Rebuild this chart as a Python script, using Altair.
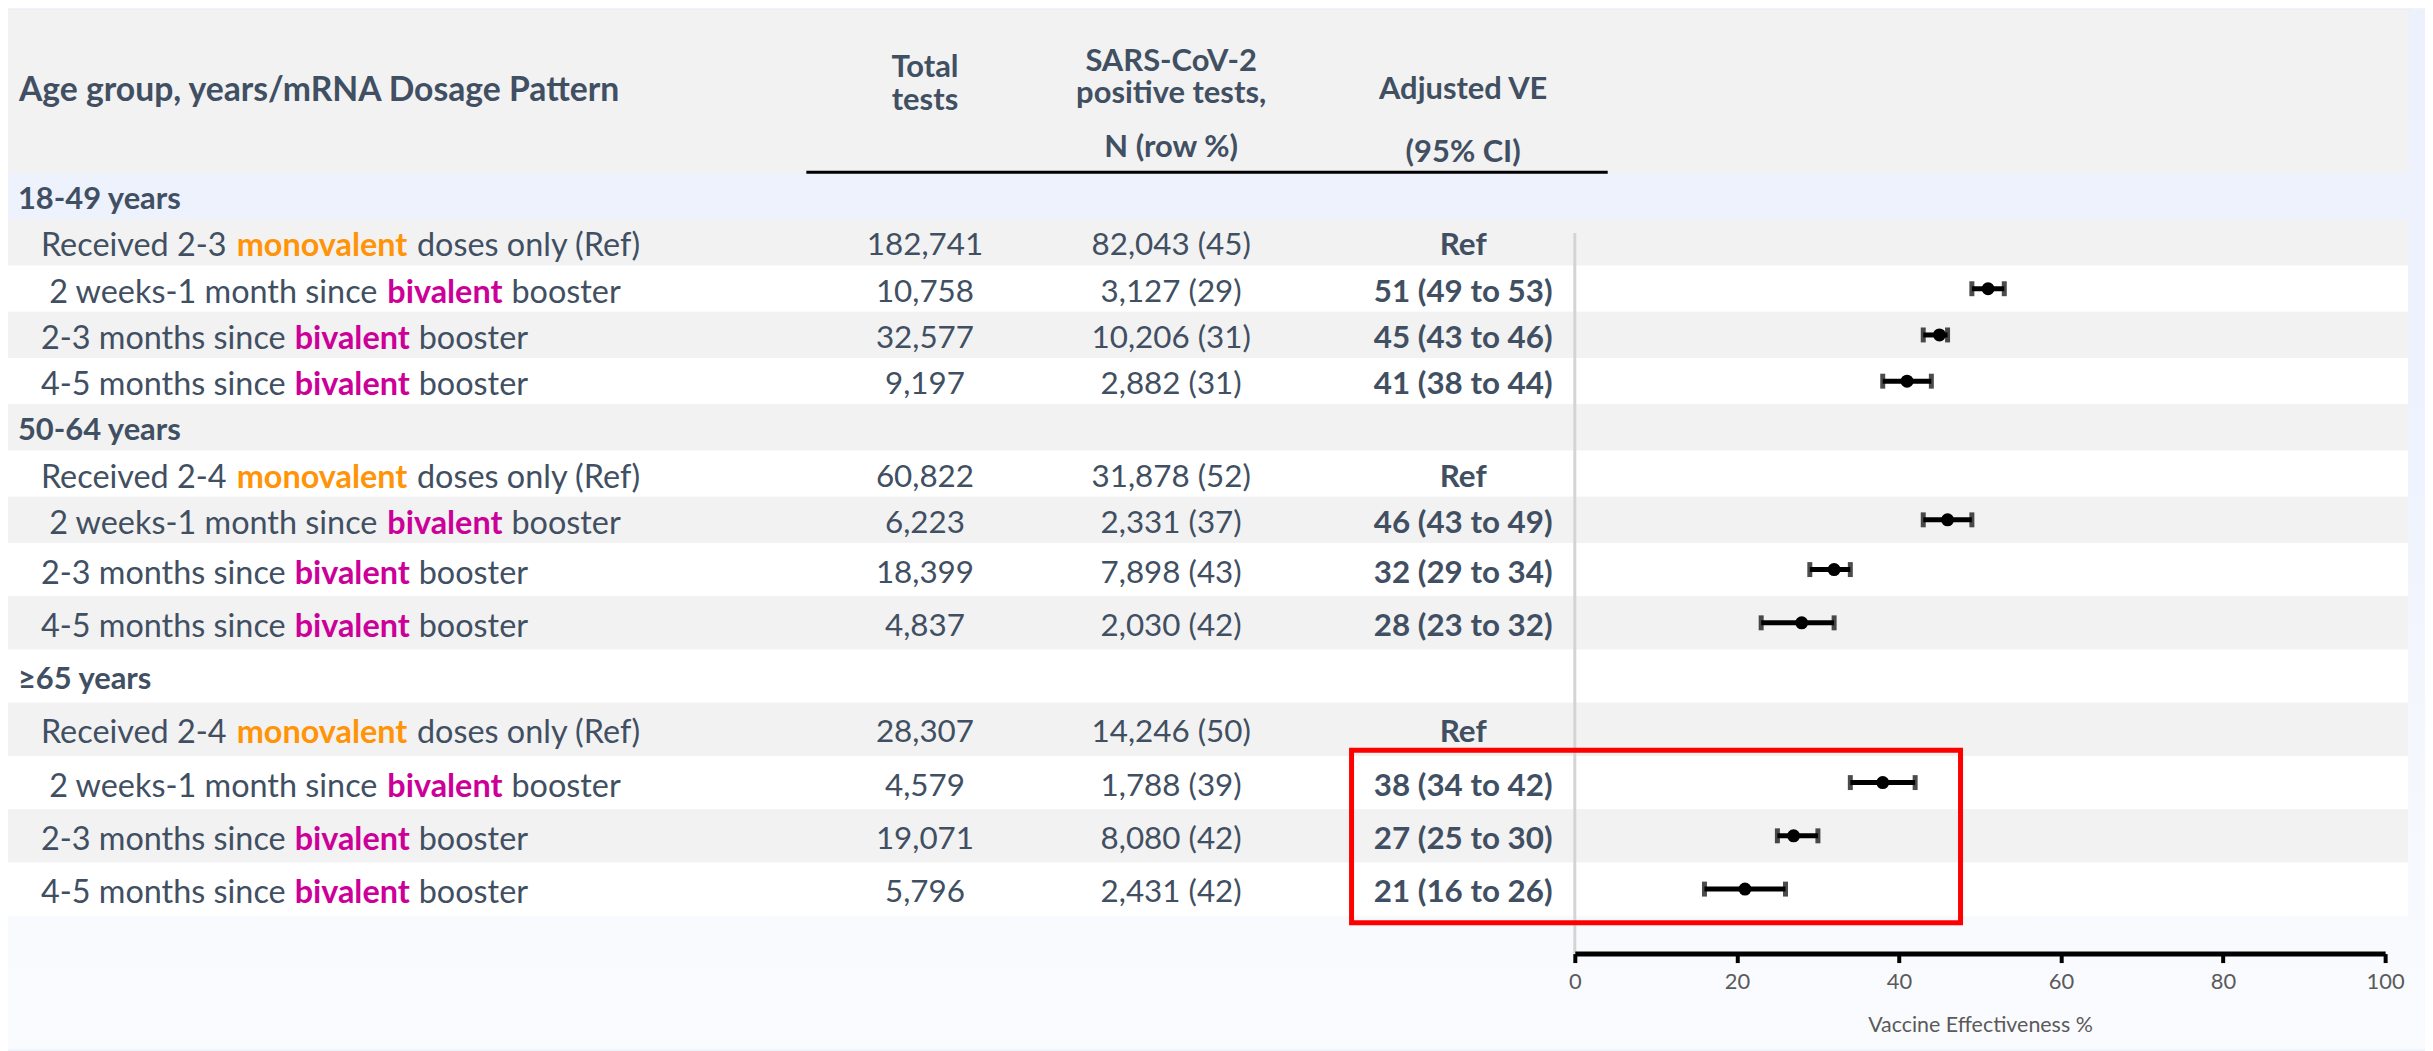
import glob
import os
import struct

import altair as alt
import pandas as pd

# ------------------------------------------------------------------ data
row_labels = [
    "18-49 years",
    "Received 2-3 monovalent doses only (Ref)",
    " 2 weeks-1 month since bivalent booster",
    "2-3 months since bivalent booster",
    "4-5 months since bivalent booster",
    "50-64 years",
    "Received 2-4 monovalent doses only (Ref)",
    " 2 weeks-1 month since bivalent booster",
    "2-3 months since bivalent booster",
    "4-5 months since bivalent booster",
    "≥65 years",
    "Received 2-4 monovalent doses only (Ref)",
    " 2 weeks-1 month since bivalent booster",
    "2-3 months since bivalent booster",
    "4-5 months since bivalent booster",
]
row_kind = ["group", "ref", "biv", "biv", "biv",
            "group", "ref", "biv", "biv", "biv",
            "group", "ref", "biv", "biv", "biv"]
total_tests = [None, 182741, 10758, 32577, 9197,
               None, 60822, 6223, 18399, 4837,
               None, 28307, 4579, 19071, 5796]
positive_n = [None, 82043, 3127, 10206, 2882,
              None, 31878, 2331, 7898, 2030,
              None, 14246, 1788, 8080, 2431]
positive_pct = [None, 45, 29, 31, 31,
                None, 52, 37, 43, 42,
                None, 50, 39, 42, 42]
ve_est = [None, None, 51, 45, 41, None, None, 46, 32, 28, None, None, 38, 27, 21]
ve_lo = [None, None, 49, 43, 38, None, None, 43, 29, 23, None, None, 34, 25, 16]
ve_hi = [None, None, 53, 46, 44, None, None, 49, 34, 32, None, None, 42, 30, 26]
axis_ticks = [0, 20, 40, 60, 80, 100]
header_texts = ["Age group, years/mRNA Dosage Pattern", "Total", "tests",
                "SARS-CoV-2", "positive tests,", "N (row %)",
                "Adjusted VE", "(95% CI)"]
axis_title = "Vaccine Effectiveness %"

# ------------------------------------------------------------------ style
FONT = "Lato"
TEXT = "#414f62"
ORANGE = "#ff9408"
MAGENTA = "#cc0099"
keyword_colors = {"monovalent": ORANGE, "bivalent": MAGENTA}
ROW_FS = 32.5
NUM_FS = 31.5
HEAD_FS = 33.8
COLHEAD_FS = 31
GROUP_FS = 31
TEXT_DY = 4
LABEL_X = 33
GROUP_X = 10
COL_TOTAL = 920
COL_POS = 1167
COL_VE = 1460


# --------------------------------------------------- text measurement
def _find_font(fname):
    roots = ["/usr/share/fonts", "/usr/local/share/fonts",
             os.path.expanduser("~/.fonts"), os.path.expanduser("~/.local/share/fonts")]
    for r in roots:
        hits = glob.glob(os.path.join(r, "**", fname), recursive=True)
        if hits:
            return hits[0]
    return None


def _font_widths(path):
    data = open(path, "rb").read()
    ntab = struct.unpack(">H", data[4:6])[0]
    tabs = {}
    for i in range(ntab):
        o = 12 + 16 * i
        tag = data[o:o + 4].decode("latin1")
        _, toff, tlen = struct.unpack(">III", data[o + 4:o + 16])
        tabs[tag] = toff
    upem = struct.unpack(">H", data[tabs["head"] + 18:tabs["head"] + 20])[0]
    nhm = struct.unpack(">H", data[tabs["hhea"] + 34:tabs["hhea"] + 36])[0]
    hm = tabs["hmtx"]
    adv = [struct.unpack(">H", data[hm + 4 * i:hm + 4 * i + 2])[0] for i in range(nhm)]
    cm = tabs["cmap"]
    nsub = struct.unpack(">H", data[cm + 2:cm + 4])[0]
    mapping = {}
    for i in range(nsub):
        pid, eid, soff = struct.unpack(">HHI", data[cm + 4 + 8 * i:cm + 12 + 8 * i])
        st = cm + soff
        fmt = struct.unpack(">H", data[st:st + 2])[0]
        if fmt != 4:
            continue
        segx2 = struct.unpack(">H", data[st + 6:st + 8])[0]
        seg = segx2 // 2
        ends = struct.unpack(">%dH" % seg, data[st + 14:st + 14 + segx2])
        starts = struct.unpack(">%dH" % seg, data[st + 16 + segx2:st + 16 + 2 * segx2])
        deltas = struct.unpack(">%dh" % seg, data[st + 16 + 2 * segx2:st + 16 + 3 * segx2])
        rpos = st + 16 + 3 * segx2
        roffs = struct.unpack(">%dH" % seg, data[rpos:rpos + segx2])
        for k in range(seg):
            for c in range(starts[k], min(ends[k], 0x2FFF) + 1):
                if roffs[k] == 0:
                    g = (c + deltas[k]) & 0xFFFF
                else:
                    a = rpos + 2 * k + roffs[k] + 2 * (c - starts[k])
                    g = struct.unpack(">H", data[a:a + 2])[0]
                    if g:
                        g = (g + deltas[k]) & 0xFFFF
                mapping[c] = g
        break

    def width(text, size):
        tot = 0
        for ch in text:
            g = mapping.get(ord(ch), 0)
            tot += adv[min(g, nhm - 1)]
        return tot * size / upem
    return width


def _make_measure(fname, fallback):
    try:
        p = _find_font(fname)
        if p:
            return _font_widths(p)
    except Exception:
        pass
    return lambda t, s: len(t) * s * fallback


w_reg = _make_measure("Lato-Regular.ttf", 0.50)
w_bold = _make_measure("Lato-Bold.ttf", 0.53)

# ------------------------------------------------------------------ tables
segments = []  # row, x, text, color, weight, size
for i, lab in enumerate(row_labels):
    if row_kind[i] == "group":
        segments.append((i, GROUP_X, lab.strip(), TEXT, "bold", GROUP_FS))
        continue
    lead = len(lab) - len(lab.lstrip())
    body = lab.strip()
    kw = next(k for k in keyword_colors if k in body)
    idx = body.index(kw)
    pre, post = body[:idx], body[idx + len(kw):]
    x0 = LABEL_X + lead * w_reg(" ", ROW_FS)
    x_kw = x0 + w_reg(pre, ROW_FS)
    x_post = x_kw + w_bold(kw, ROW_FS) + w_reg(" ", ROW_FS)
    segments.append((i, x0, pre.strip(), TEXT, "normal", ROW_FS))
    segments.append((i, x_kw, kw, keyword_colors[kw], "bold", ROW_FS))
    segments.append((i, x_post, post.strip(), TEXT, "normal", ROW_FS))

seg_df = pd.DataFrame(segments, columns=["row", "x", "text", "color", "weight", "size"])
seg_df["x"] = seg_df["x"].round(1)

num_rows = []
for i in range(len(row_labels)):
    if total_tests[i] is None:
        continue
    ve_txt = "Ref" if ve_est[i] is None else f"{ve_est[i]} ({ve_lo[i]} to {ve_hi[i]})"
    num_rows.append({"row": i, "total": f"{total_tests[i]:,}",
                     "pos": f"{positive_n[i]:,} ({positive_pct[i]})", "ve": ve_txt})
num_df = pd.DataFrame(num_rows)

forest_df = pd.DataFrame([{"row": i, "est": ve_est[i], "lo": ve_lo[i], "hi": ve_hi[i]}
                          for i in range(len(row_labels)) if ve_est[i] is not None])
caps_df = pd.concat([forest_df[["row", "lo"]].rename(columns={"lo": "cap"}),
                     forest_df[["row", "hi"]].rename(columns={"hi": "cap"})])

band_df = pd.DataFrame([{"row": i, "fill": "#f2f2f2" if i % 2 == 1 else "#ffffff"}
                        for i in range(1, len(row_labels))])

one = pd.DataFrame({"a": [0]})

# ------------------------------------------------------------------ scales
W, H = 2410, 947
n = len(row_labels)
# piecewise row scale: the upper eight rows are a little shorter than the lower seven
yscale = alt.Scale(domain=[-0.5, 7.5, n - 0.5], range=[164, 535, 909], nice=False, zero=False)
xscale = alt.Scale(domain=[0, 100], range=[1572, 2385], nice=False, zero=False)
xaxis = alt.Axis(values=axis_ticks, title=axis_title, grid=False, zindex=1,
                 domainColor="black", domainWidth=5, tickColor="black", tickWidth=4,
                 tickSize=9, labelFont=FONT, labelFontSize=22, labelColor="#5a5a5a",
                 labelPadding=9, labelFlush=False, titleFont=FONT, titleFontSize=21.5,
                 titleColor="#5a5a5a", titleFontWeight="normal", titlePadding=22)
Y = lambda f: alt.Y(f, type="quantitative", scale=yscale, axis=None)

# ------------------------------------------------------------------ layers
bg = alt.Chart(one).mark_rect(
    color=alt.Gradient(gradient="linear", x1=0, x2=0, y1=0, y2=1,
                       stops=[alt.GradientStop(color="#ecf1fc", offset=0),
                              alt.GradientStop(color="#eff3fd", offset=0.45),
                              alt.GradientStop(color="#f9fafe", offset=0.9),
                              alt.GradientStop(color="#fafbfe", offset=1)])
).encode(x=alt.value(0), x2=alt.value(W + 15), y=alt.value(0), y2=alt.value(H + 96))

header_bg = alt.Chart(one).mark_rect(color="#f2f2f2").encode(
    x=alt.value(0), x2=alt.value(2408), y=alt.value(0), y2=alt.value(164))

bands = alt.Chart(band_df).transform_calculate(
    y0="datum.row - 0.5", y1="datum.row + 0.5"
).mark_rect().encode(
    x=alt.value(0), x2=alt.value(2408), y=Y("y0"), y2="y1:Q",
    color=alt.Color("fill:N", scale=None))

underline = alt.Chart(one).mark_rule(color="black", strokeWidth=3).encode(
    x=alt.value(801), x2=alt.value(1605), y=alt.value(163))

refline = alt.Chart(pd.DataFrame({"v": [0]})).mark_rule(color="#d4d4d4", strokeWidth=3).encode(
    x=alt.X("v:Q", scale=xscale, axis=xaxis), y=alt.value(224), y2=alt.value(947))

# header texts: (index into header_texts, x, baseline y, align)
header_layout = [(0, 11, 92, "left"), (1, COL_TOTAL, 68, "center"), (2, COL_TOTAL, 101, "center"),
                 (3, COL_POS, 61, "center"), (4, COL_POS, 94, "center"), (5, COL_POS, 148, "center"),
                 (6, COL_VE, 90, "center"), (7, COL_VE, 153, "center")]
header_layers = []
for k, hx, hy, al in header_layout:
    header_layers.append(
        alt.Chart(pd.DataFrame({"t": [header_texts[k]]})).mark_text(
            align=al, baseline="alphabetic", font=FONT,
            fontSize=HEAD_FS if k == 0 else COLHEAD_FS,
            fontWeight="bold", color=TEXT
        ).encode(x=alt.value(hx), y=alt.value(hy), text="t:N"))

seg_layers = []
for (sx, wt, sz), g in seg_df.groupby(["x", "weight", "size"]):
    seg_layers.append(
        alt.Chart(g.reset_index(drop=True)).mark_text(
            align="left", baseline="middle", font=FONT, fontSize=float(sz),
            fontWeight=wt, dy=TEXT_DY
        ).encode(x=alt.value(float(sx)), y=Y("row"), text="text:N",
                 color=alt.Color("color:N", scale=None)))


def col_text(field, cx, weight):
    return alt.Chart(num_df).mark_text(
        align="center", baseline="middle", font=FONT, fontSize=NUM_FS,
        fontWeight=weight, color=TEXT, dy=TEXT_DY
    ).encode(x=alt.value(cx), y=Y("row"), text=f"{field}:N")


cols = [col_text("total", COL_TOTAL, "normal"), col_text("pos", COL_POS, "normal"),
        col_text("ve", COL_VE, "bold")]

errbar = alt.Chart(forest_df).mark_rule(color="black", strokeWidth=5).encode(
    x=alt.X("lo:Q", scale=xscale, axis=xaxis), x2="hi:Q", y=Y("row"))
caps = alt.Chart(caps_df).mark_tick(orient="vertical", color="black", thickness=5, size=15).encode(
    x=alt.X("cap:Q", scale=xscale, axis=xaxis), y=Y("row"))
points = alt.Chart(forest_df).mark_point(filled=True, color="black", size=170, opacity=1).encode(
    x=alt.X("est:Q", scale=xscale, axis=xaxis), y=Y("row"))

redbox = alt.Chart(one).mark_rect(fillOpacity=0, stroke="#ff0000", strokeWidth=5).encode(
    x=alt.value(1348), x2=alt.value(1959), y=alt.value(743), y2=alt.value(916))

chart = alt.layer(
    bg, header_bg, bands, underline, refline,
    *header_layers, *seg_layers, *cols,
    errbar, caps, points, redbox
).properties(
    width=W, height=H,
    padding={"left": 0, "top": 0, "right": 15, "bottom": 96},
    autosize=alt.AutoSizeParams(type="none"),
).configure_view(stroke=None).configure(background="#eef3fc")

chart.save("out.html", embed_options={"renderer": "svg", "actions": False})
